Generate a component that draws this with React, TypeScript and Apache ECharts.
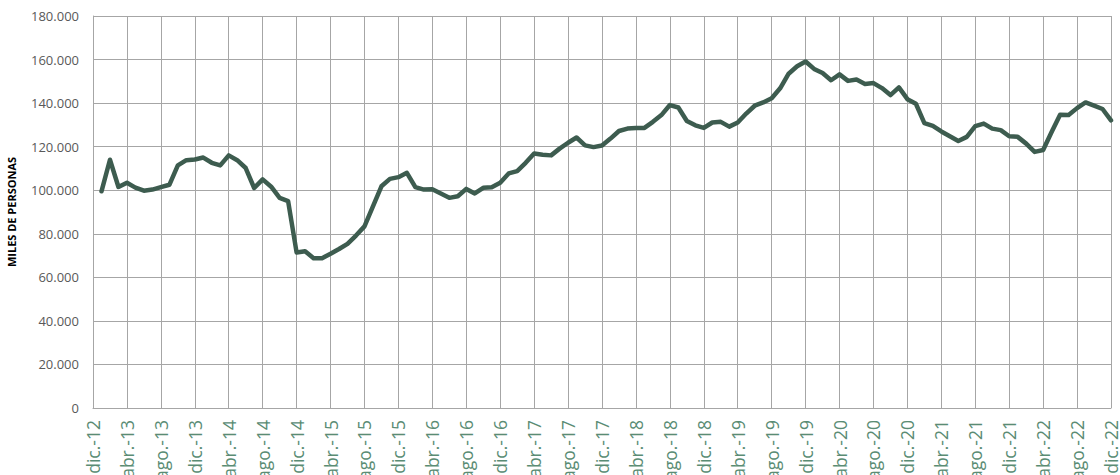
import React, { useEffect, useRef } from "react";
import * as echarts from "echarts";

const MONTHS = ["ene.", "feb.", "mar.", "abr.", "may.", "jun.", "jul.", "ago.", "sep.", "oct.", "nov.", "dic."];
const YEARS = [13, 14, 15, 16, 17, 18, 19, 20, 21, 22];
const FIRST_CATEGORY = "dic.-12";

// Miles de personas, ene.-13 .. dic.-22
const VALUES_2013 = [99500, 114000, 101500, 103400, 101200, 99800, 100300, 101400, 102500, 111400, 113800, 114100];
const VALUES_2014 = [115000, 112600, 111400, 116000, 113800, 110200, 101000, 105000, 101600, 96500, 95000, 71400];
const VALUES_2015 = [72000, 68800, 68800, 70800, 73000, 75400, 79200, 83400, 92600, 101800, 105200, 106000];
const VALUES_2016 = [108000, 101400, 100300, 100400, 98500, 96500, 97200, 100600, 98500, 101100, 101400, 103400];
const VALUES_2017 = [107700, 108800, 112600, 116900, 116300, 116000, 119100, 121800, 124200, 120600, 119800, 120500];
const VALUES_2018 = [123700, 127200, 128300, 128600, 128600, 131400, 134500, 139100, 138000, 131800, 129800, 128600];
const VALUES_2019 = [131100, 131400, 129200, 131100, 135200, 138800, 140300, 142200, 146800, 153500, 156900, 159100];
const VALUES_2020 = [155700, 153800, 150500, 153200, 150200, 150800, 148800, 149200, 146900, 143700, 147200, 141800];
const VALUES_2021 = [139700, 130800, 129500, 127000, 124800, 122600, 124500, 129400, 130600, 128300, 127600, 124800];
const VALUES_2022 = [124500, 121400, 117600, 118500, 126700, 134700, 134500, 137700, 140300, 138800, 137300, 132100];

const Y_MIN = 0;
const Y_MAX = 180000;
const Y_STEP = 20000;

const categories: string[] = [FIRST_CATEGORY];
YEARS.forEach((y) => MONTHS.forEach((m) => categories.push(`${m}-${y}`)));

const seriesData: (number | null)[] = [
  null,
  ...VALUES_2013,
  ...VALUES_2014,
  ...VALUES_2015,
  ...VALUES_2016,
  ...VALUES_2017,
  ...VALUES_2018,
  ...VALUES_2019,
  ...VALUES_2020,
  ...VALUES_2021,
  ...VALUES_2022,
];

function fmt(v: number): string {
  return String(Math.round(v)).replace(/\B(?=(\d{3})+(?!\d))/g, ".");
}

export default function App() {
  const ref = useRef<HTMLDivElement>(null);
  useEffect(() => {
    if (!ref.current) return;
    const chart = echarts.init(ref.current, undefined, { renderer: "svg" });
    chart.setOption({
      animation: false,
      backgroundColor: "#ffffff",
      grid: {
        left: 93,
        right: 9,
        top: 16,
        bottom: 67,
        containLabel: false,
        outerBoundsMode: "none",
      },
      xAxis: {
        type: "category",
        data: categories,
        boundaryGap: false,
        axisLine: { show: true, lineStyle: { color: "#a6a6a6", width: 1 } },
        axisTick: { show: false, interval: 3 },
        axisLabel: {
          interval: 3,
          rotate: 90,
          margin: 12,
          color: "#5a8c74",
          fontSize: 17.5,
          fontFamily: "Open Sans",
        },
        splitLine: { show: true, interval: 3, lineStyle: { color: "#a6a6a6", width: 1 } },
      },
      yAxis: {
        type: "value",
        min: Y_MIN,
        max: Y_MAX,
        interval: Y_STEP,
        name: "MILES DE PERSONAS",
        nameLocation: "middle",
        nameGap: 76,
        nameRotate: 90,
        nameTextStyle: { color: "#000000", fontSize: 11, fontWeight: "bold", fontFamily: "Open Sans" },
        axisLine: { show: true, lineStyle: { color: "#a6a6a6", width: 1 } },
        axisTick: { show: false },
        axisLabel: {
          margin: 14,
          color: "#595959",
          fontSize: 13,
          fontFamily: "Open Sans",
          formatter: (v: number) => fmt(v),
        },
        splitLine: { show: true, lineStyle: { color: "#a6a6a6", width: 1 } },
      },
      series: [
        {
          type: "line",
          data: seriesData,
          showSymbol: false,
          symbol: "none",
          connectNulls: false,
          lineStyle: { color: "#3d5c4f", width: 4.5, join: "round", cap: "round" },
          itemStyle: { color: "#3d5c4f" },
        },
      ],
    });
    return () => chart.dispose();
  }, []);
  return (
    <div
      ref={ref}
      style={{ position: "absolute", left: 0, top: 0, width: 1120, height: 475 }}
    />
  );
}
